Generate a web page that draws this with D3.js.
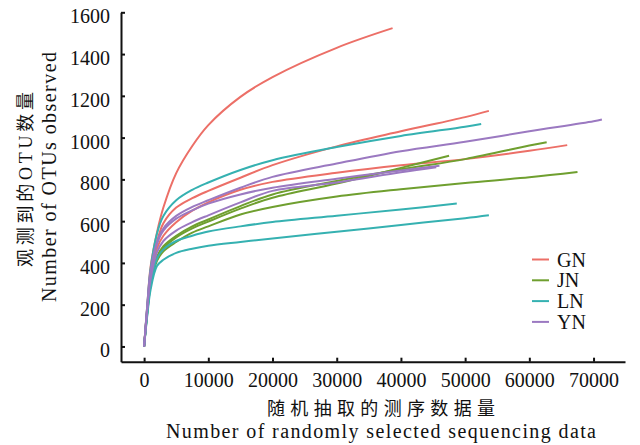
<!DOCTYPE html>
<html>
<head>
<meta charset="utf-8">
<script src="https://cdn.jsdelivr.net/npm/d3@7"></script>
<style>
  body { margin: 0; background: #fff; }
  svg { display: block; }
  text { font-family: "Liberation Serif", "Noto Sans CJK SC", serif; fill: #111; }
</style>
</head>
<body>
<svg id="chart" width="640" height="445"></svg>
<script>
// sequencing depth at which each curve was read
var depths = [0, 500, 1000, 2000, 3000, 5000, 7500, 10000, 15000, 20000, 30000, 40000, 50000, 60000, 70000];

var groups = ["GN", "JN", "LN", "YN"];
var palette = ["#ec6f67", "#6f9f2f", "#35b1b1", "#9b79c1"];

// OTUs observed per sample, at the depths above (then the last point of the curve)
var GN1 = [0, 200, 380, 545, 665, 830, 960, 1060, 1195, 1290, 1430];
var GN2 = [0, 190, 345, 500, 590, 665, 710, 745, 808, 868, 958, 1030, 1098];
var GN3 = [0, 180, 330, 470, 530, 595, 650, 690, 750, 788, 832, 868, 897, 937];
var JN1 = [0, 170, 310, 430, 480, 530, 575, 608, 672, 728, 792, 848, 897, 962];
var JN2 = [0, 170, 300, 420, 470, 522, 565, 598, 660, 712, 780, 855];
var JN3 = [0, 165, 290, 410, 455, 500, 545, 575, 632, 668, 718, 753, 783, 810];
var LN1 = [0, 200, 370, 540, 625, 700, 750, 785, 845, 892, 955, 1008, 1052];
var LN2 = [0, 160, 290, 420, 465, 505, 530, 550, 575, 596, 626, 656];
var LN3 = [0, 150, 270, 385, 415, 448, 468, 482, 500, 517, 549, 582, 614];
var YN1 = [0, 195, 360, 500, 565, 625, 668, 700, 760, 812, 876, 935, 980, 1030, 1078];
var YN2 = [0, 190, 350, 490, 555, 612, 652, 684, 728, 760, 803, 843];
var YN3 = [0, 180, 320, 450, 505, 555, 595, 628, 690, 745, 785, 834];

var sampleNames  = ["GN1", "GN2", "GN3", "JN1", "JN2", "JN3", "LN1", "LN2", "LN3", "YN1", "YN2", "YN3"];
var sampleValues = [GN1, GN2, GN3, JN1, JN2, JN3, LN1, LN2, LN3, YN1, YN2, YN3];
var endDepth     = [38700, 53700, 65900, 62700, 47500, 67500, 52500, 48700, 53700, 71300, 46000, 45500];
var endValue     = [1524, 1128, 964, 978, 913, 835, 1065, 684, 628, 1087, 865, 858];

var xTicks = [0, 10000, 20000, 30000, 40000, 50000, 60000, 70000];
var yTicks = [0, 200, 400, 600, 800, 1000, 1200, 1400, 1600];

var svg = d3.select("#chart");

var x = d3.scaleLinear().domain([-3600, 74900]).range([121, 625]);
var y = d3.scaleLinear().domain([-73, 1600]).range([361.7, 12.3]);

// Axes, ticks pointing inward
var xAxis = svg.append("g")
    .attr("transform", "translate(0,361.7)")
    .call(d3.axisBottom(x).tickValues(xTicks).tickFormat(d3.format("d"))
        .tickSize(-4).tickSizeOuter(0).tickPadding(11));
var yAxis = svg.append("g")
    .attr("transform", "translate(121,0)")
    .call(d3.axisLeft(y).tickValues(yTicks).tickFormat(d3.format("d"))
        .tickSize(-4).tickSizeOuter(0).tickPadding(11));

[xAxis, yAxis].forEach(function (a) {
    a.select(".domain").attr("stroke", "#111").attr("stroke-width", 2);
    a.selectAll(".tick line").attr("stroke", "#111").attr("stroke-width", 2);
    a.selectAll(".tick text").attr("font-size", 20).attr("font-family", null).attr("fill", "#111");
});
yAxis.selectAll(".tick text").attr("dy", "0.52em");

// Curves
var line = d3.line()
    .x(function (d) { return x(d[0]); })
    .y(function (d) { return y(d[1]); })
    .curve(d3.curveCatmullRom.alpha(0.5));

var curves = sampleNames.map(function (name, i) {
    var pts = sampleValues[i].map(function (v, j) { return [depths[j], v]; });
    pts.push([endDepth[i], endValue[i]]);
    return { name: name, group: name.slice(0, 2), points: pts };
});

svg.append("g").selectAll("path")
    .data(curves)
    .enter().append("path")
    .attr("d", function (d) { return line(d.points); })
    .attr("fill", "none")
    .attr("stroke", function (d) { return palette[groups.indexOf(d.group)]; })
    .attr("stroke-width", 2);

// Legend
var legend = svg.append("g").selectAll("g")
    .data(groups)
    .enter().append("g")
    .attr("transform", function (d, i) { return "translate(532," + (259.5 + i * 20.8) + ")"; });
legend.append("line")
    .attr("x1", 0).attr("x2", 17)
    .attr("stroke", function (d, i) { return palette[i]; })
    .attr("stroke-width", 2);
legend.append("text")
    .attr("x", 25).attr("y", 7)
    .attr("font-size", 20)
    .text(function (d) { return d; });

// Axis titles
svg.append("text")
    .attr("x", 267).attr("y", 415)
    .attr("font-size", 18)
    .attr("font-family", "Noto Sans CJK SC")
    .attr("textLength", 228).attr("lengthAdjust", "spacing")
    .text("随机抽取的测序数据量");
svg.append("text")
    .attr("x", 166).attr("y", 438.3)
    .attr("font-size", 20)
    .attr("textLength", 430).attr("lengthAdjust", "spacing")
    .text("Number of randomly selected sequencing data");

svg.append("text")
    .attr("transform", "translate(32,267) rotate(-90)")
    .attr("font-size", 18)
    .attr("textLength", 175).attr("lengthAdjust", "spacing")
    .text("观测到的OTU数量");
svg.append("text")
    .attr("transform", "translate(55.5,302) rotate(-90)")
    .attr("font-size", 20)
    .attr("textLength", 250).attr("lengthAdjust", "spacing")
    .text("Number of OTUs observed");
</script>
</body>
</html>
